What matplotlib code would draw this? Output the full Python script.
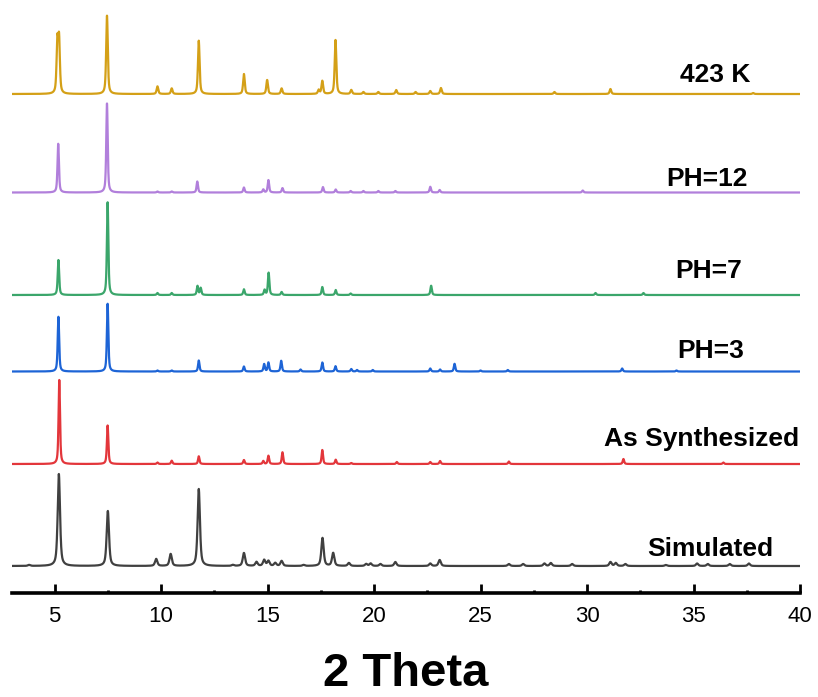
import numpy as np
import matplotlib
matplotlib.use("Agg")
import matplotlib.pyplot as plt

plt.rcParams['font.family'] = ['Liberation Sans', 'DejaVu Sans']

# peak positions (2 theta) and peak heights
sim_pos = [3.8, 5.2, 7.5, 9.77, 10.45, 11.77, 13.37, 13.89, 14.48, 14.84, 15.04, 15.36, 15.66,
           16.69, 17.58, 18.08, 18.82, 19.63, 19.84, 20.3, 21.0, 22.64, 23.08, 26.33, 27.0,
           28.0, 28.3, 29.3, 31.1, 31.35, 31.8, 33.7, 35.17, 35.67, 36.7, 37.6]
sim_h = [1, 92, 55, 7, 12, 77, 1, 13, 4, 6, 5, 3, 5,
         1, 28, 13, 3, 2, 2.5, 2, 4, 2.5, 6, 2, 2,
         2.5, 3, 2, 4, 3, 2, 1, 2.5, 2, 2, 2.5]

syn_pos = [5.22, 7.49, 9.83, 10.5, 11.77, 13.89, 14.8, 15.04, 15.7, 17.57, 18.2, 18.93,
           21.07, 22.64, 23.1, 26.33, 31.71, 36.4]
syn_h = [84, 38.5, 1.5, 3.3, 7.7, 4, 3, 8.3, 11.7, 14, 4.3, 1,
         2, 2, 3, 2.5, 5, 1.5]

ph3_pos = [5.18, 7.49, 9.83, 10.5, 11.77, 13.89, 14.84, 15.04, 15.64, 16.55, 17.57, 18.19,
           18.93, 19.2, 19.94, 22.64, 23.1, 23.78, 25.0, 26.28, 31.65, 34.2]
ph3_h = [54.7, 67.7, 1, 1, 11, 5, 7.4, 9, 10.7, 2, 9, 5.3,
         2.5, 1.5, 1.5, 3, 2, 7.7, 1, 1.5, 3, 1]

ph7_pos = [5.18, 7.49, 9.83, 10.5, 11.71, 11.86, 13.89, 14.86, 15.05, 15.66, 17.57, 18.2,
           18.9, 22.68, 30.4, 32.65]
ph7_h = [35, 92.7, 2, 2, 9, 7, 5.7, 5, 22.3, 3, 8, 5,
         1.5, 9.3, 2, 2]

ph12_pos = [5.17, 7.46, 9.83, 10.5, 11.7, 13.89, 14.8, 15.04, 15.7, 17.6, 18.2, 18.9,
            19.5, 20.2, 21.0, 22.64, 23.08, 29.8]
ph12_h = [48.7, 89, 1, 1, 11, 5, 3, 12.4, 4.4, 5.4, 3, 1.5,
          1.5, 1.5, 1.5, 5.7, 2.5, 2]

k423_pos = [5.13, 5.21, 7.46, 9.83, 10.5, 11.77, 13.89, 14.98, 15.66, 17.4, 17.57, 18.19,
            18.93, 19.5, 20.2, 21.04, 21.95, 22.64, 23.14, 28.47, 31.1, 37.8]
k423_h = [50, 52, 78.3, 7.6, 5.6, 53.3, 20, 14, 5.6, 4, 13, 54,
          4, 2, 2, 4, 2, 3, 6, 2, 5, 1]

names = ['Simulated', 'As Synthesized', 'PH=3', 'PH=7', 'PH=12', '423 K']
positions = [sim_pos, syn_pos, ph3_pos, ph7_pos, ph12_pos, k423_pos]
heights = [sim_h, syn_h, ph3_h, ph7_h, ph12_h, k423_h]

# drawing style
colors = ['#404040', '#E3363B', '#1D64D6', '#3BA66B', '#B17FDB', '#D4A017']
offsets = [27, 129, 221.5, 298, 400.5, 499]
widths = [0.13, 0.08, 0.08, 0.08, 0.08, 0.09]
label_x = [38.73, 39.95, 37.37, 37.27, 37.55, 37.65]
label_y = [37, 147, 235, 315, 407, 511]


def profile(x, pos, h, fwhm, eta=0.6):
    y = np.zeros_like(x)
    for p, a in zip(pos, h):
        d = (x - p) / (fwhm / 2)
        lor = 1 / (1 + d ** 2)
        gau = np.exp(-np.log(2) * d ** 2)
        y += a * (eta * lor + (1 - eta) * gau)
    return y


x = np.arange(3.0, 40.0, 0.005)

fig = plt.figure(figsize=(8.18, 6.97), dpi=100)
ax = fig.add_axes([12 / 818, 104 / 697, 788 / 818, 583 / 697])

for i in range(len(names)):
    y = profile(x, positions[i], heights[i], widths[i]) + offsets[i]
    ax.plot(x, y, color=colors[i], lw=1.6)
    ax.text(label_x[i], label_y[i], names[i], ha='right', va='baseline',
            fontsize=19, fontweight='bold')

ax.set_xlim(3, 40)
ax.set_ylim(0, 583)
for s in ['left', 'right', 'top']:
    ax.spines[s].set_visible(False)
ax.spines['bottom'].set_linewidth(2.6)
ax.set_yticks([])
ax.set_xticks(np.arange(5, 41, 5))
ax.set_xticks(np.arange(7.5, 40, 5), minor=True)
ax.tick_params(axis='x', which='major', direction='in', length=6.5, width=2,
               labelsize=16, pad=9)
ax.tick_params(axis='x', which='minor', direction='in', length=2.5, width=2)
ax.set_xlabel('2 Theta', fontsize=34, fontweight='bold', labelpad=18)

fig.savefig('out.png', dpi=100)
